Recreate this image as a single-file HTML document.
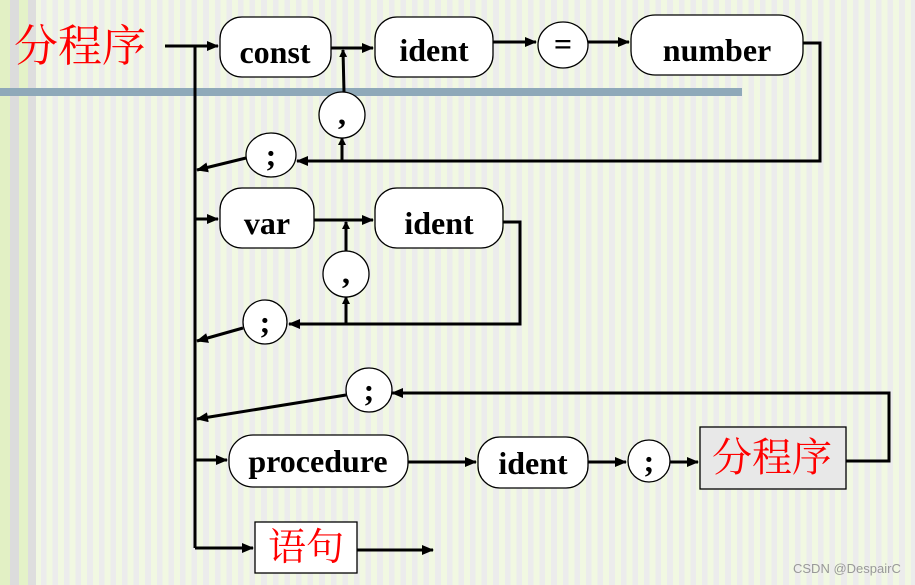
<!DOCTYPE html>
<html><head><meta charset="utf-8"><style>
html,body{margin:0;padding:0;}
body{width:915px;height:585px;overflow:hidden;position:relative;
background:repeating-linear-gradient(90deg,#f1f8e2 0px,#f1f8e2 6px,#ececec 6px,#ececec 11.6px);}
svg{position:absolute;left:0;top:0;}
.t{font-family:"Liberation Serif",serif;font-weight:bold;font-size:32px;fill:#000;text-anchor:middle;}
.c{font-family:"Liberation Serif","Noto Serif CJK SC",serif;font-size:40px;fill:#f00;text-anchor:middle;}
</style></head><body>
<svg width="915" height="585" viewBox="0 0 915 585">
<defs><marker id="a" markerWidth="8" markerHeight="8" refX="7" refY="4" orient="auto" markerUnits="userSpaceOnUse"><path d="M0,0 L8,4 L0,8 z" fill="#000"/></marker>
<marker id="b" markerWidth="12" markerHeight="10" refX="11" refY="5" orient="auto" markerUnits="userSpaceOnUse"><path d="M0,0 L12,5 L0,10 z" fill="#000"/></marker></defs>
<rect x="0" y="0" width="10" height="585" fill="#e2f0c4"/><rect x="10" y="0" width="9" height="585" fill="#dcdcdc"/><rect x="19" y="0" width="9" height="585" fill="#e4f2c8"/><rect x="28" y="0" width="8" height="585" fill="#dedede"/>
<rect x="0" y="88" width="742" height="8" fill="#8fa9b9"/>
<text x="80" y="61" class="c" style="font-size:44px">分程序</text>
<g stroke="#000" stroke-width="3" fill="none">
<line x1="165" y1="46" x2="218" y2="46" marker-end="url(#b)"/>
<line x1="195" y1="46" x2="195" y2="548"/>
<line x1="331" y1="48" x2="373" y2="48" marker-end="url(#b)"/>
<line x1="493" y1="42" x2="536" y2="42" marker-end="url(#b)"/>
<line x1="588" y1="42" x2="629" y2="42" marker-end="url(#b)"/>
<polyline points="803,43 820,43 820,161 297,161" marker-end="url(#b)"/>
<line x1="342" y1="161" x2="342" y2="138" marker-end="url(#a)"/>
<line x1="344" y1="92" x2="343" y2="50" marker-end="url(#a)"/>
<line x1="246" y1="158" x2="197" y2="170" marker-end="url(#b)"/>
<line x1="195" y1="219" x2="218" y2="219" marker-end="url(#b)"/>
<line x1="314" y1="220" x2="373" y2="220" marker-end="url(#b)"/>
<polyline points="503,222 520,222 520,324 289,324" marker-end="url(#b)"/>
<line x1="346" y1="324" x2="346" y2="297" marker-end="url(#a)"/>
<line x1="346" y1="251" x2="346" y2="222" marker-end="url(#a)"/>
<line x1="243" y1="328" x2="197" y2="341" marker-end="url(#b)"/>
<polyline points="846,461 889,461 889,393 392,393" marker-end="url(#b)"/>
<line x1="346" y1="395" x2="197" y2="419" marker-end="url(#b)"/>
<line x1="195" y1="460" x2="227" y2="460" marker-end="url(#b)"/>
<line x1="408" y1="462" x2="476" y2="462" marker-end="url(#b)"/>
<line x1="588" y1="462" x2="626" y2="462" marker-end="url(#b)"/>
<line x1="670" y1="462" x2="698" y2="462" marker-end="url(#b)"/>
<line x1="195" y1="548" x2="253" y2="548" marker-end="url(#b)"/>
<line x1="357" y1="550" x2="433" y2="550" marker-end="url(#b)"/>
</g>
<g stroke="#000" stroke-width="1.3" fill="#fff">
<rect x="220" y="17" width="111" height="60" rx="22"/>
<rect x="375" y="17" width="118" height="60" rx="22"/>
<ellipse cx="563" cy="45" rx="25" ry="23"/>
<rect x="631" y="15" width="172" height="60" rx="24"/>
<ellipse cx="271" cy="155" rx="25" ry="22"/>
<ellipse cx="342" cy="115" rx="23" ry="23"/>
<rect x="220" y="188" width="94" height="60" rx="22"/>
<rect x="375" y="188" width="128" height="60" rx="22"/>
<ellipse cx="346" cy="274" rx="23" ry="23"/>
<ellipse cx="265" cy="322" rx="22" ry="22"/>
<ellipse cx="369" cy="390" rx="23" ry="22"/>
<rect x="229" y="435" width="179" height="52" rx="24"/>
<rect x="478" y="437" width="110" height="51" rx="22"/>
<ellipse cx="649" cy="461" rx="21" ry="21"/>
<rect x="700" y="427" width="146" height="62" fill="#e8e8e8"/>
<rect x="255" y="522" width="102" height="51"/>
</g>
<text x="275" y="63" class="t">const</text>
<text x="434" y="61" class="t">ident</text>
<text x="563" y="55" class="t">=</text>
<text x="717" y="61" class="t">number</text>
<text x="271" y="166" class="t">;</text>
<text x="342" y="124" class="t">,</text>
<text x="267" y="234" class="t">var</text>
<text x="439" y="234" class="t">ident</text>
<text x="346" y="283" class="t">,</text>
<text x="265" y="333" class="t">;</text>
<text x="369" y="401" class="t">;</text>
<text x="318" y="472" class="t">procedure</text>
<text x="533" y="474" class="t">ident</text>
<text x="649" y="472" class="t">;</text>
<text x="772" y="471" class="c">分程序</text>
<text x="306" y="560" class="c" style="font-size:38px">语句</text>
<text x="793" y="573" style="font-family:'Liberation Sans',sans-serif;font-size:13px;fill:#999">CSDN @DespairC</text>
</svg>
</body></html>
